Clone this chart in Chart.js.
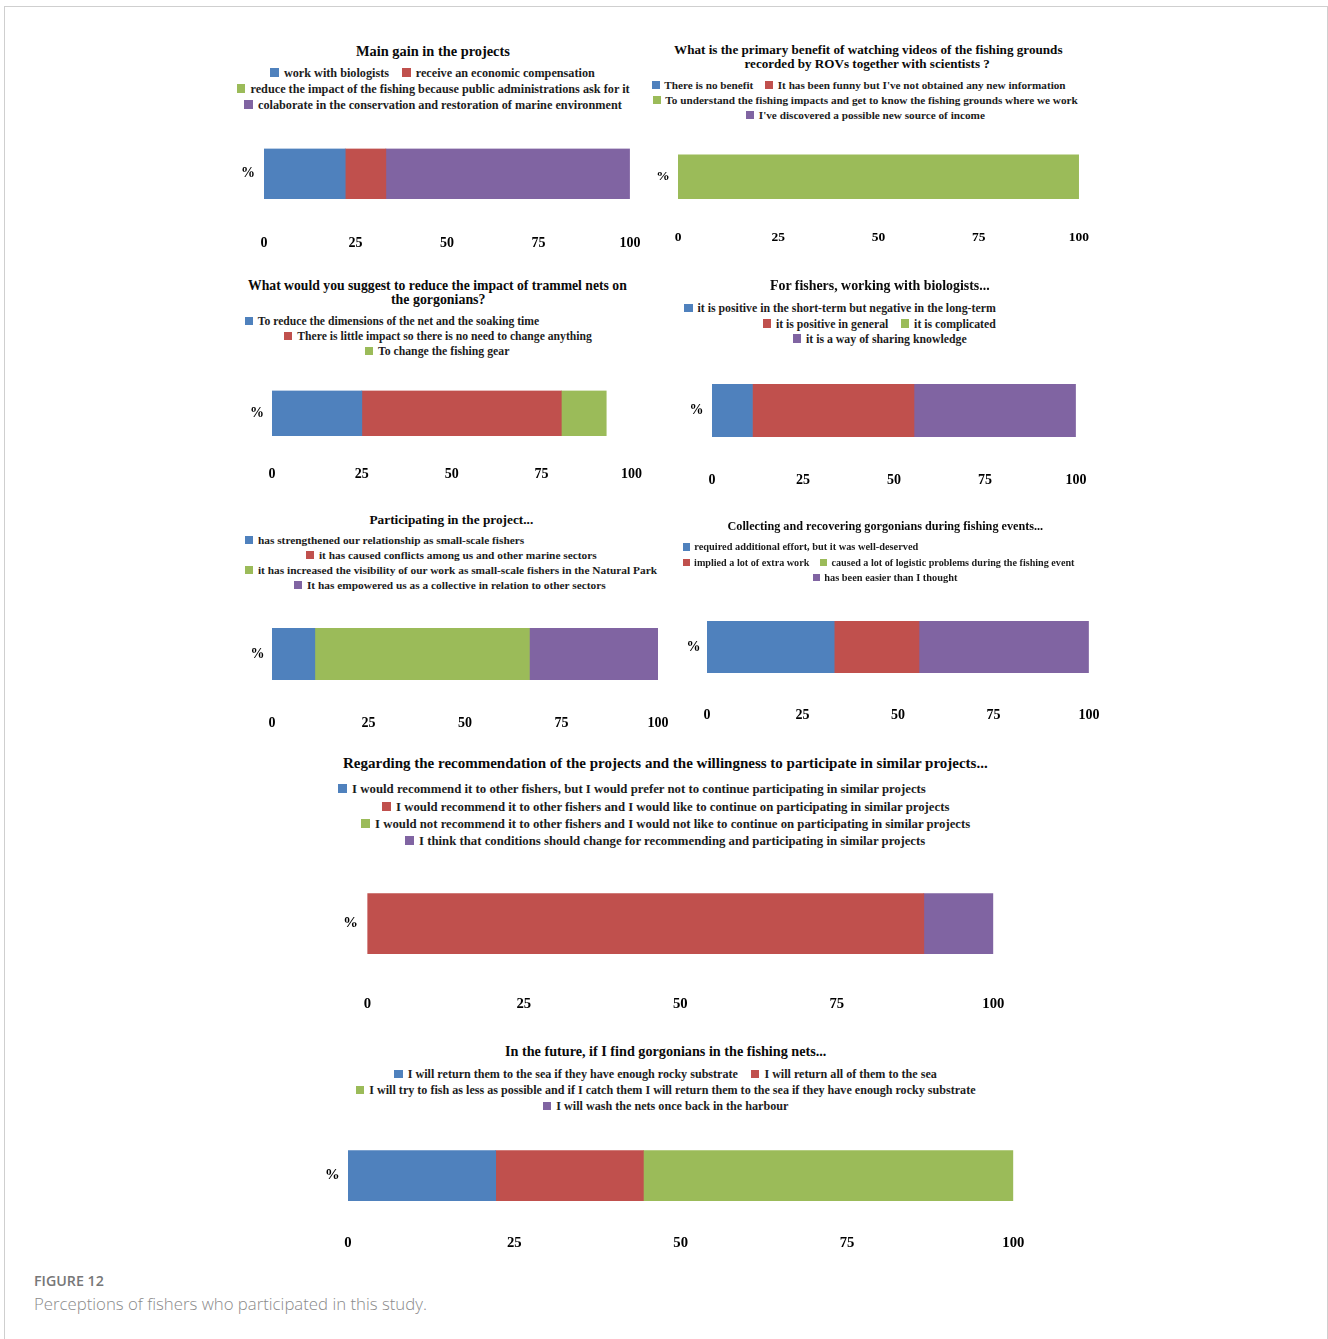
<!DOCTYPE html>
<html>
<head>
<meta charset="utf-8">
<script src="https://cdn.jsdelivr.net/npm/chart.js@4.4.1/dist/chart.umd.min.js"></script>
<style>
  body { margin: 0; background: #fff; width: 1328px; height: 1339px; position: relative; overflow: hidden; }
  #frame { position: absolute; left: 4px; top: 6px; width: 1322px; height: 1400px; border: 1px solid #cfcfcf; }
  .txt { position: absolute; white-space: nowrap; line-height: 1; font-family: 'Liberation Serif', 'Times New Roman', serif; font-weight: bold; color: #161616; }
  .cap { font-family: 'Open Sans', 'Noto Sans', sans-serif; }
  .box { display: inline-block; width: .72em; height: .72em; margin-right: .42em; vertical-align: -0.02em; }
  .gap { display: inline-block; width: 1.05em; }
  canvas { position: absolute; }
</style>
</head>
<body>
<div id="frame"></div>
<script>
(function() {
  'use strict';

  var seriesColors = ['#4F81BD', '#C0504D', '#9BBB59', '#8064A2'];
  var tickValues = [0, 25, 50, 75, 100];
  var categoryLabel = ['%'];

  // Main gain in the projects
  var gainTitle = ['Main gain in the projects'];
  var gainLabels = ['work with biologists', 'receive an economic compensation',
    'reduce the impact of the fishing because public administrations ask for it',
    'colaborate in the conservation and restoration of marine environment'];
  var gainValues = [22.2, 11.1, 0, 66.7];

  // ROV videos
  var videoTitle = ['What is the primary benefit of watching videos of the fishing grounds',
    'recorded by ROVs together with scientists ?'];
  var videoLabels = ['There is no benefit', "It has been funny but I've not obtained any new information",
    'To understand the fishing impacts and get to know the fishing grounds where we work',
    "I've discovered a possible new source of income"];
  var videoValues = [0, 0, 100, 0];

  // trammel nets
  var trammelTitle = ['What would you suggest to reduce the impact of trammel nets on', 'the gorgonians?'];
  var trammelLabels = ['To reduce the dimensions of the net and the soaking time',
    'There is little impact so there is no need to change anything', 'To change the fishing gear'];
  var trammelValues = [25, 55.5, 12.5];

  // working with biologists
  var biologistsTitle = ['For fishers, working with biologists...'];
  var biologistsLabels = ['it is positive in the short-term but negative in the long-term',
    'it is positive in general', 'it is complicated', 'it is a way of sharing knowledge'];
  var biologistsValues = [11.1, 44.4, 0, 44.4];

  // participating
  var participatingTitle = ['Participating in the project...'];
  var participatingLabels = ['has strengthened our relationship as small-scale fishers',
    'it has caused conflicts among us and other marine sectors',
    'it has increased the visibility of our work as small-scale fishers in the Natural Park',
    'It has empowered us as a collective in relation to other sectors'];
  var participatingValues = [11.1, 0, 55.6, 33.3];

  // collecting gorgonians
  var collectingTitle = ['Collecting and recovering gorgonians during fishing events...'];
  var collectingLabels = ['required additional effort, but it was well-deserved', 'implied a lot of extra work',
    'caused a lot of logistic problems during the fishing event', 'has been easier than I thought'];
  var collectingValues = [33.3, 22.2, 0, 44.4];

  // recommendation
  var recommendTitle = ['Regarding the recommendation of the projects and the willingness to participate in similar projects...'];
  var recommendLabels = ['I would recommend it to other fishers, but I would prefer not to continue participating in similar projects',
    'I would recommend it to other fishers and I would like to continue on participating in similar projects',
    'I would not recommend it to other fishers and I would not like to continue on participating in similar projects',
    'I think that conditions should change for recommending and participating in similar projects'];
  var recommendValues = [0, 88.9, 0, 11.1];

  // future
  var futureTitle = ['In the future, if I find gorgonians in the fishing nets...'];
  var futureLabels = ['I will return them to the sea if they have enough rocky substrate',
    'I will return all of them to the sea',
    'I will try to fish as less as possible and if I catch them I will return them to the sea if they have enough rocky substrate',
    'I will wash the nets once back in the harbour'];
  var futureValues = [22.2, 22.2, 55.6, 0];

  // page layout: plot = [left, right, barTop, barBottom], title lines / legend rows = [x0, x1, yCenter]
  var panels = [
    { title: gainTitle, labels: gainLabels, values: gainValues,
      plot: [264, 630, 149, 199], tickY: 243, pctX: 249, tick: 14,
      titlePos: [[356, 510, 50]],
      legend: [[[0, 1], 270, 595, 72.5], [[2], 236.5, 630, 88.5], [[3], 244, 622, 104.5]] },
    { title: videoTitle, labels: videoLabels, values: videoValues,
      plot: [678, 1079, 154, 199], tickY: 238, pctX: 664, tick: 13.5,
      titlePos: [[674, 1063, 48.5], [744.5, 990, 62.5]],
      legend: [[[0, 1], 651.5, 1066, 85], [[2], 652.5, 1078.5, 100], [[3], 746, 985, 115]] },
    { title: trammelTitle, labels: trammelLabels, values: trammelValues,
      plot: [272, 631, 391, 436], tickY: 474.5, pctX: 258, tick: 14,
      titlePos: [[248, 627, 285], [391, 485.5, 299]],
      legend: [[[0], 244.5, 539.5, 321], [[1], 284, 592, 336.5], [[2], 364.5, 509.5, 351.5]] },
    { title: biologistsTitle, labels: biologistsLabels, values: biologistsValues,
      plot: [711.5, 1075, 384, 437], tickY: 480, pctX: 697, tick: 14,
      titlePos: [[770, 990, 285]],
      legend: [[[0], 684, 996, 308.5], [[1, 2], 762.5, 996, 324], [[3], 792.5, 967, 339]] },
    { title: participatingTitle, labels: participatingLabels, values: participatingValues,
      plot: [271.5, 657.5, 628.5, 680], tickY: 723, pctX: 258, tick: 14,
      titlePos: [[369.5, 533.5, 518.5]],
      legend: [[[0], 245, 524.5, 540], [[1], 306, 597, 555], [[2], 245, 657.5, 570], [[3], 294, 606, 585]] },
    { title: collectingTitle, labels: collectingLabels, values: collectingValues,
      plot: [706.5, 1088.5, 621, 672.5], tickY: 714.5, pctX: 694, tick: 14,
      titlePos: [[727.5, 1043.5, 525]],
      legend: [[[0], 682.5, 918.5, 547], [[1, 2], 682.5, 1075, 562.5], [[3], 812.5, 957.5, 577.5]] },
    { title: recommendTitle, labels: recommendLabels, values: recommendValues,
      plot: [367.5, 993, 893, 953.5], tickY: 1004, pctX: 352, tick: 14.7,
      titlePos: [[343, 988.5, 762.5]],
      legend: [[[0], 337.5, 926, 789], [[1], 381.5, 950, 806.5], [[2], 360.5, 971, 824], [[3], 404.5, 926, 841]] },
    { title: futureTitle, labels: futureLabels, values: futureValues,
      plot: [347.5, 1012.5, 1150, 1200.5], tickY: 1243, pctX: 333, tick: 14.7,
      titlePos: [[505, 826.5, 1050]],
      legend: [[[0, 1], 394, 937.5, 1073.5], [[2], 355.5, 976, 1089.5], [[3], 542.5, 788.5, 1105.5]] }
  ];

  var FONT = "'Liberation Serif', 'Times New Roman', serif";

  // put a line of text so that it spans x0..x1 with its middle on yc
  function placeText(html, x0, x1, yc, cls, color) {
    var el = document.createElement('div');
    el.className = 'txt' + (cls ? ' ' + cls : '');
    el.innerHTML = html;
    el.style.fontSize = '20px';
    if (color) el.style.color = color;
    document.body.appendChild(el);
    var w = el.getBoundingClientRect().width;
    var fs = 20 * (x1 - x0) / w;
    el.style.fontSize = fs + 'px';
    el.style.left = x0 + 'px';
    el.style.top = (yc - 0.45 * fs) + 'px';
    return el;
  }

  function esc(s) {
    return s.replace(/&/g, '&amp;').replace(/</g, '&lt;');
  }

  function makeChart(p, w, h) {
    var x0 = p.plot[0], bottom = p.plot[3];
    var cv = document.createElement('canvas');
    cv.width = w; cv.height = h;
    cv.style.width = w + 'px'; cv.style.height = h + 'px';
    document.body.appendChild(cv);

    var tickFont = { family: FONT, size: p.tick, weight: 'bold' };
    var chart = new Chart(cv, {
      type: 'bar',
      data: {
        labels: categoryLabel,
        datasets: p.labels.map(function(lab, i) {
          // empty answers get no bar at all (avoids a hairline from a zero-width bar)
          return { label: lab, data: [p.values[i] || null], backgroundColor: seriesColors[i],
            borderWidth: 0, barPercentage: 1, categoryPercentage: 1 };
        })
      },
      options: {
        indexAxis: 'y',
        responsive: false,
        maintainAspectRatio: false,
        animation: false,
        layout: { padding: { top: 14, right: 26, left: 0, bottom: 0 } },
        plugins: { legend: { display: false }, tooltip: { enabled: false }, title: { display: false } },
        scales: {
          x: {
            stacked: true, min: 0, max: 100,
            afterBuildTicks: function(s) { s.ticks = tickValues.map(function(v) { return { value: v }; }); },
            ticks: { padding: p.tickY - bottom - 0.6 * p.tick, color: '#000', font: tickFont, maxRotation: 0 },
            grid: { display: false, drawTicks: false },
            border: { display: false },
            afterFit: function(s) { s.height = 70; }
          },
          y: {
            stacked: true,
            ticks: { padding: x0 - p.pctX - 0.42 * p.tick, color: '#000', font: tickFont },
            grid: { display: false, drawTicks: false },
            border: { display: false },
            afterFit: function(s) { s.width = 44; }
          }
        }
      }
    });
    return chart;
  }

  function drawPanel(p) {
    var x0 = p.plot[0], x1 = p.plot[1], top = p.plot[2], bottom = p.plot[3];
    // first pass: see where the library puts the plot area, then size the canvas to match
    var w = Math.round(x1 - x0 + 70), h = Math.round(bottom - top + 84);
    var chart = makeChart(p, w, h);
    for (var k = 0; k < 2; k++) {
      var a = chart.chartArea;
      w = Math.round(w + (x1 - x0) - (a.right - a.left));
      h = Math.round(h + (bottom - top) - (a.bottom - a.top));
      chart.canvas.remove();
      chart.destroy();
      chart = makeChart(p, w, h);
    }
    var area = chart.chartArea;
    chart.canvas.style.left = (x0 - area.left) + 'px';
    chart.canvas.style.top = (top - area.top) + 'px';

    // titles
    p.title.forEach(function(line, i) {
      var t = p.titlePos[i];
      placeText(esc(line), t[0], t[1], t[2], '', '#0a0a0a');
    });

    // html legend from the chart's datasets
    var sets = chart.data.datasets;
    p.legend.forEach(function(row) {
      var html = row[0].map(function(k) {
        return '<span class="box" style="background:' + sets[k].backgroundColor + '"></span>' + esc(sets[k].label);
      }).join('<span class="gap"></span>');
      placeText(html, row[1], row[2], row[3], '', '#1c1c1c');
    });
  }

  panels.forEach(drawPanel);

  // caption
  var c1 = placeText('FIGURE 12', 34, 105, 1280.5, 'cap', '#777');
  c1.style.fontWeight = '600';
  var c2 = placeText('Perceptions of fishers who participated in this study.', 34, 476, 1304, 'cap', '#8a8a8a');
  c2.style.fontWeight = '300';
})();
</script>
</body>
</html>
